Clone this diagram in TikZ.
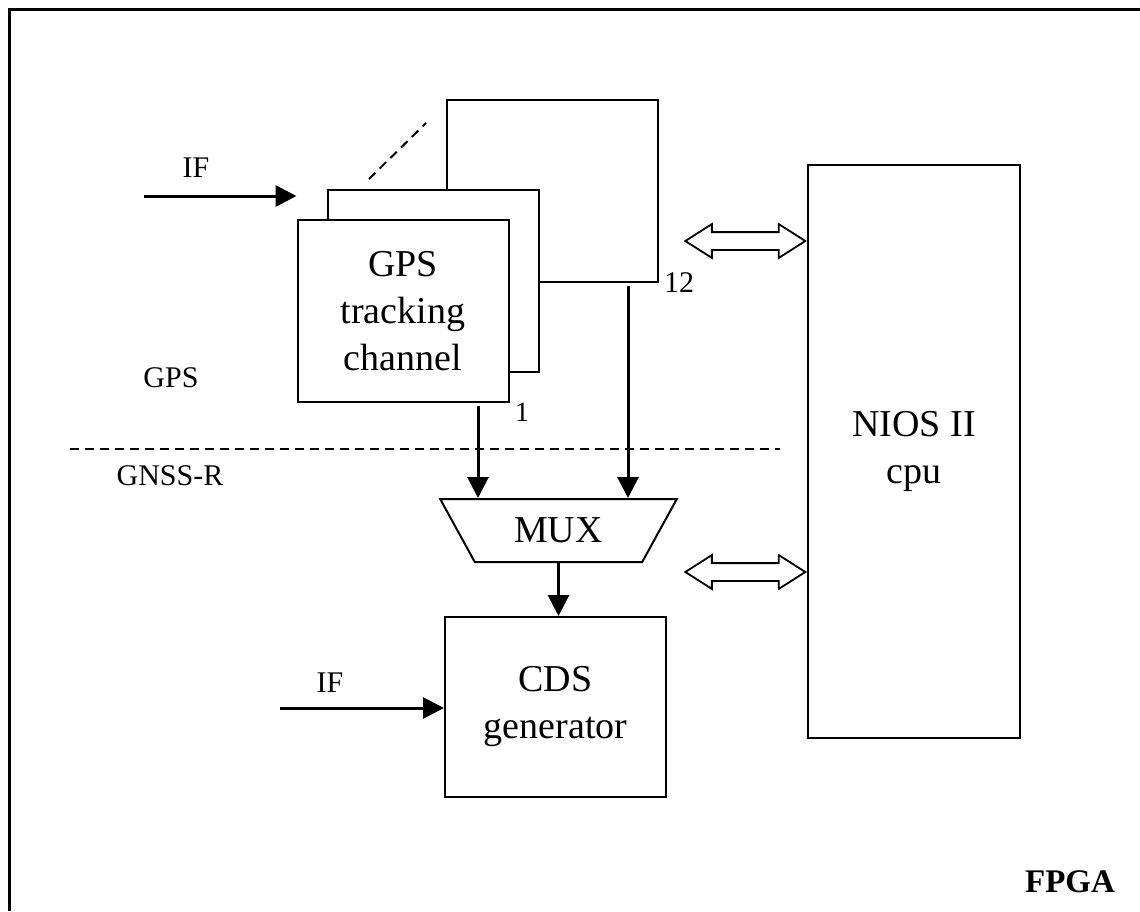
\documentclass[tikz,border=0pt]{standalone}
\usepackage{fontspec}
\setmainfont{Liberation Serif}
\usetikzlibrary{positioning,shapes.geometric,shapes.arrows,arrows.meta}
\newcommand{\blkfont}{\fontsize{38}{47}\selectfont}
\newcommand{\lblfont}{\fontsize{30}{36}\selectfont}

\begin{document}
\begin{tikzpicture}[x=1pt,y=-1pt,blk/.style={draw, line width=2pt, fill=white, minimum width=211pt, minimum height=182pt, align=center, font=\blkfont, inner sep=0pt},sig/.style={line width=3pt, -{Triangle[length=21pt,width=21pt]}},bus/.style={draw, line width=1.8pt, double arrow, double arrow head extend=8pt, double arrow tip angle=65, inner xsep=0pt, inner ysep=8pt, minimum height=120pt, anchor=east},muxbox/.style={draw, line width=2pt, trapezium, trapezium left angle=54, trapezium right angle=54, shape border rotate=180, trapezium stretches=true, minimum width=237pt, minimum height=63pt, inner sep=0pt, font=\blkfont},lbl/.style={font=\lblfont, inner sep=0pt},divline/.style={line width=2pt, dash pattern=on 9pt off 6pt}]
\useasboundingbox (0,0) rectangle (1140,911);
\draw[line width=3pt] (9,911) |- (1140,9);
\node[blk] (gpstwelve) at (552.5,191) {};
\node[blk] (gpsmid) at (433.5,281) {};
\node[blk] (gpsone) at (403,311) {GPS\\tracking\\channel};
\draw[divline] (369,179) -- (426,123);
\node[lbl, font=\fontsize{28}{32}\selectfont] (numone) at (522,412) {1};
\node[lbl] (numtwelve) at (679,283) {12};
\node[blk, minimum width=212pt, minimum height=573pt] (nios) at (914,451.5) {NIOS II\\cpu};
\node[bus] (busup) at ([yshift=210.5pt]nios.west) {};
\node[bus] (busdown) at ([yshift=-120.5pt]nios.west) {};
\node[muxbox] (mux) at (558.5,530.5) {MUX};
\node[blk, minimum width=221pt, minimum height=180pt] (cds) at (555.5,707) {CDS\\generator};
\draw[sig] ([shift={(75,3)}]gpsone.south) coordinate (oneout) -- (oneout |- mux.north);
\draw[sig] ([shift={(75.5,3)}]gpstwelve.south) coordinate (twelveout) -- (twelveout |- mux.north);
\draw[sig] (mux.south) -- (mux.south |- cds.north);
\coordinate (ifa) at (144,196);
\draw[sig] (ifa) -- (ifa -| gpsone.west);
\node[lbl] (iftop) at (196,168) {IF};
\coordinate (ifb) at (280,708);
\draw[sig] (ifb) -- (ifb -| cds.west);
\node[lbl] (ifbot) at (330,683) {IF};
\draw[divline] (70,449) -- (780,449);
\node[lbl] (gpslbl) at (171,378) {GPS};
\node[lbl] (gnsslbl) at (170,476) {GNSS-R};
\node[lbl, font=\fontsize{33}{40}\selectfont\bfseries] (fpga) at (1070,882) {FPGA};
\end{tikzpicture}
\end{document}
